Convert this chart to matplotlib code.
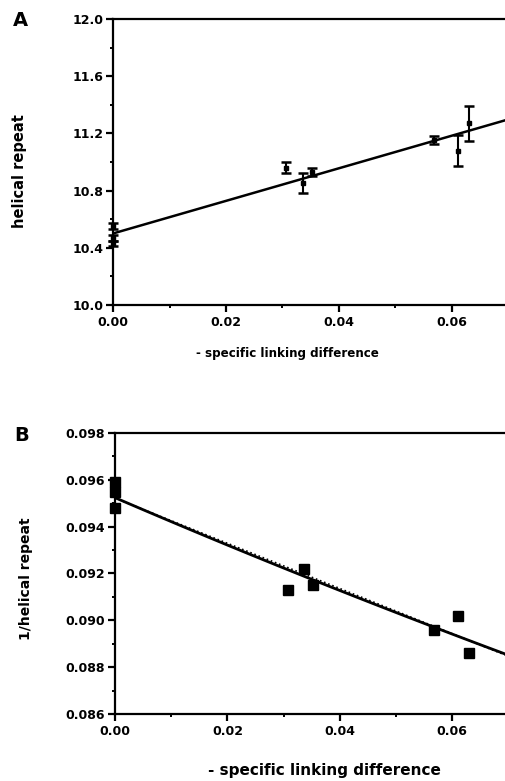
import numpy as np
import matplotlib
matplotlib.use("Agg")
from matplotlib import pyplot as plt
from matplotlib.ticker import MultipleLocator, FormatStrFormatter

# - specific linking difference for each topoisomer
sigma = [0.0, 0.0, 0.0, 0.0307, 0.0337, 0.0353, 0.0568, 0.0611, 0.0630]
# helical repeat (bp/turn) and its error
helical_repeat = [10.43, 10.47, 10.55, 10.96, 10.85, 10.93, 11.155, 11.08, 11.27]
helical_err = [0.02, 0.02, 0.02, 0.04, 0.07, 0.03, 0.03, 0.11, 0.12]
# 1/helical repeat
inv_repeat = [0.0959, 0.0955, 0.0948, 0.0913, 0.0922, 0.0915, 0.0896, 0.0902, 0.0886]

# linear fit of panel A (intercept, slope)
fit_a = [10.50, 11.4]
# linear fit of panel B (intercept, slope), dotted
fit_b = [0.09522, -0.0965]

xmax = 0.0694
x_fit = np.linspace(0, xmax, 50)

plt.rcParams["font.family"] = ["DejaVu Sans"]
plt.rcParams["font.weight"] = "bold"

fig = plt.figure(figsize=(5.05, 7.81), dpi=100)
ax_a = fig.add_axes([0.2238, 0.6095, 0.7762, 0.3662])
ax_b = fig.add_axes([0.2277, 0.0858, 0.7723, 0.3598])

for ax in (ax_a, ax_b):
    ax.spines["right"].set_visible(False)
    for s in ("left", "bottom", "top"):
        ax.spines[s].set_linewidth(1.6)
    ax.set_xlim(0, xmax)
    ax.xaxis.set_major_locator(MultipleLocator(0.02))
    ax.xaxis.set_minor_locator(MultipleLocator(0.01))
    ax.xaxis.set_major_formatter(FormatStrFormatter("%.2f"))
    ax.tick_params(which="major", direction="out", length=5, width=1.6,
                   labelsize=9, pad=2)
    ax.tick_params(which="minor", direction="out", length=2.5, width=1.4)
    ax.tick_params(axis="x", pad=3)
    for lab in ax.get_xticklabels() + ax.get_yticklabels():
        lab.set_fontweight("bold")

# panel A
ax_a.plot(x_fit, np.polyval(fit_a[::-1], x_fit), color="black", lw=1.8)
ax_a.errorbar(sigma, helical_repeat, yerr=helical_err, fmt="s", color="black",
              ms=3, capsize=3.5, elinewidth=1.5, capthick=1.8, clip_on=False)
ax_a.set_ylim(10.0, 12.0)
ax_a.yaxis.set_major_locator(MultipleLocator(0.4))
ax_a.yaxis.set_minor_locator(MultipleLocator(0.2))
ax_a.yaxis.set_major_formatter(FormatStrFormatter("%.1f"))
ax_a.set_xlabel("- specific linking difference", fontsize=8.6, fontweight="bold")
ax_a.set_ylabel("helical repeat", fontsize=10.5, fontweight="bold")
ax_a.xaxis.set_label_coords(0.444, -0.147)
ax_a.yaxis.set_label_coords(-0.219, 0.467)
fig.text(0.040, 0.974, "A", fontsize=14, fontweight="bold", ha="center", va="center")

# panel B
ax_b.plot(x_fit, 1.0 / np.polyval(fit_a[::-1], x_fit), color="black", lw=2.0)
ax_b.plot(x_fit, np.polyval(fit_b[::-1], x_fit), color="black", lw=1.2, ls=":")
ax_b.plot(sigma, inv_repeat, "s", color="black", ms=7, clip_on=False)
ax_b.set_ylim(0.086, 0.098)
ax_b.yaxis.set_major_locator(MultipleLocator(0.002))
ax_b.yaxis.set_minor_locator(MultipleLocator(0.001))
ax_b.yaxis.set_major_formatter(FormatStrFormatter("%.3f"))
ax_b.set_xlabel("- specific linking difference", fontsize=11, fontweight="bold")
ax_b.set_ylabel("1/helical repeat", fontsize=10, fontweight="bold")
ax_b.xaxis.set_label_coords(0.536, -0.174)
ax_b.yaxis.set_label_coords(-0.210, 0.48)
fig.text(0.042, 0.443, "B", fontsize=14, fontweight="bold", ha="center", va="center")

fig.savefig("out.png", dpi=100)
